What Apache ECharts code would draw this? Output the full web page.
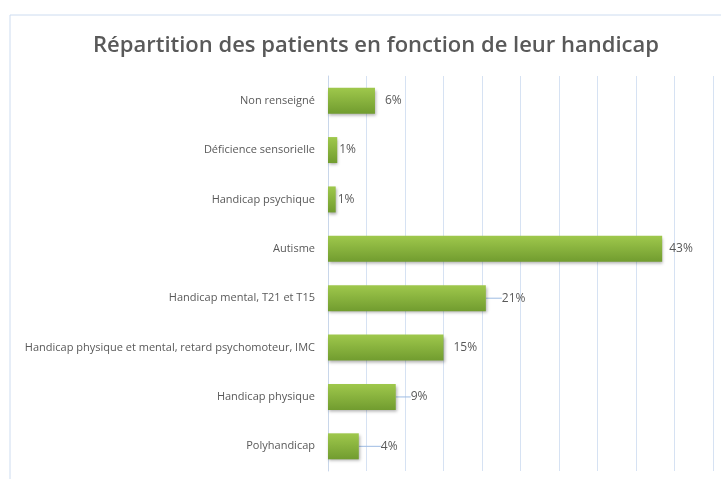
<!DOCTYPE html>
<html>
<head>
<meta charset="utf-8">
<script src="https://cdn.jsdelivr.net/npm/echarts@6/dist/echarts.min.js"></script>
<style>
  html, body { margin: 0; padding: 0; background: #fff; }
  #chart { width: 721px; height: 479px; }
</style>
</head>
<body>
<div id="chart"></div>
<script>
// catégories (de haut en bas)
const categories = [
  'Non renseigné',
  'Déficience sensorielle',
  'Handicap psychique',
  'Autisme',
  'Handicap mental, T21 et T15',
  'Handicap physique et mental, retard psychomoteur, IMC',
  'Handicap physique',
  'Polyhandicap'
]
// part des patients (%)
const values = [6.1, 1.2, 1.0, 43.4, 20.5, 15.0, 8.8, 4.0]

// décalage des étiquettes (déplacées à la main dans l'original)
const labelShift = [8, 0, 0, 5, 14, 8, 13, 20]
const labelLines = [false, false, false, false, true, false, true, true]

const textColor = '#595959'
const gridColor = '#d6e2f3'

let chart = echarts.init(document.getElementById('chart'))

let option = {
  animation: false,
  title: {
    text: 'Répartition des patients en fonction de leur handicap',
    left: 88,
    top: 30,
    textStyle: {
      fontFamily: 'Open Sans',
      fontSize: 22,
      fontWeight: 600,
      color: textColor
    }
  },
  graphic: [{
    type: 'rect',
    shape: {x: 10, y: 15, width: 720, height: 480},
    style: {fill: 'none', stroke: '#cddcf0', lineWidth: 1},
    silent: true
  }],
  grid: {left: 328, right: 8, top: 76, bottom: 8},
  xAxis: {
    type: 'value',
    min: 0,
    max: 50,
    interval: 5,
    axisLabel: {show: false},
    axisLine: {show: false},
    axisTick: {show: false},
    splitLine: {lineStyle: {color: gridColor, width: 1}}
  },
  yAxis: {
    type: 'category',
    data: categories,
    inverse: true,
    axisLine: {lineStyle: {color: '#c8d6ea'}},
    axisTick: {show: false},
    axisLabel: {
      color: textColor,
      fontFamily: 'Open Sans',
      fontSize: 11,
      margin: 13
    }
  },
  series: [{
    type: 'bar',
    barWidth: 26,
    data: values.map((v, i) => ({
      value: v,
      label: {distance: labelLines[i] ? 2 : labelShift[i] + 2},
      labelLine: {show: labelLines[i]}
    })),
    itemStyle: {
      color: new echarts.graphic.LinearGradient(0, 0, 0, 1, [
        {offset: 0, color: '#9fc84c'},
        {offset: 1, color: '#719c2f'}
      ]),
      shadowColor: 'rgba(0,0,0,0.3)',
      shadowBlur: 3,
      shadowOffsetX: 1,
      shadowOffsetY: 2
    },
    label: {
      show: true,
      position: 'right',
      color: textColor,
      fontFamily: 'Open Sans',
      fontSize: 12,
      formatter: p => Math.round(p.value) + '%'
    },
    labelLayout: p => labelLines[p.dataIndex] ? {dx: labelShift[p.dataIndex]} : {},
    labelLine: {
      lineStyle: {color: '#9dbbe3', width: 1}
    }
  }]
}

chart.setOption(option)
window.addEventListener('resize', () => chart && chart.resize())
</script>
</body>
</html>
